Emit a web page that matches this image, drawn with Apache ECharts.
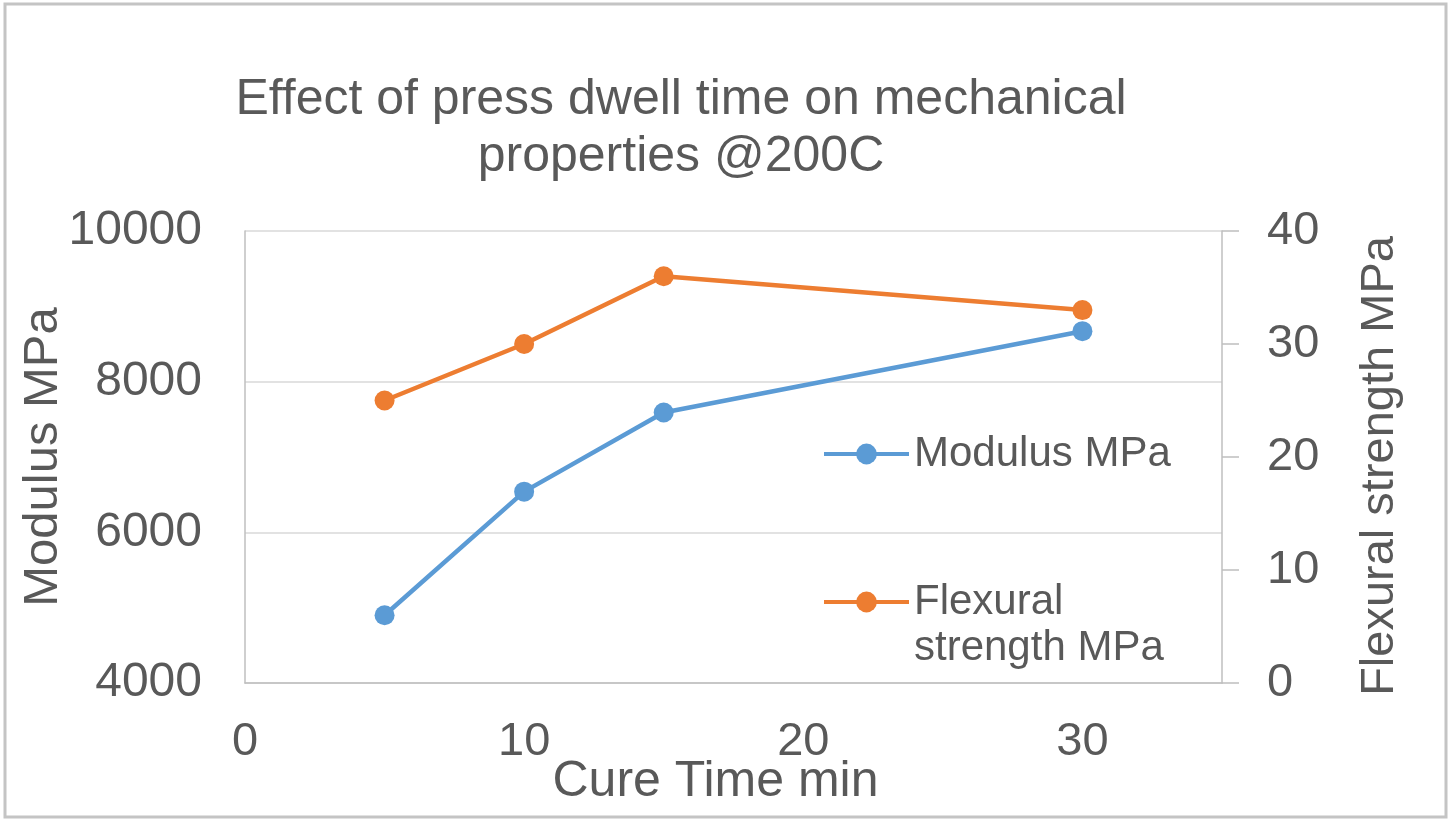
<!DOCTYPE html>
<html>
<head>
<meta charset="utf-8">
<script src="https://cdn.jsdelivr.net/npm/echarts@6/dist/echarts.min.js"></script>
<style>
html,body{margin:0;padding:0;background:#fff;}
#chart{width:1451px;height:822px;}
</style>
</head>
<body>
<div id="chart"></div>
<script>
// Data
const cureTime = [5, 10, 15, 30];
const modulusMPa = [4900, 6540, 7590, 8670];
const flexuralMPa = [25, 30, 36, 33];
const titleText = 'Effect of press dwell time on mechanical\nproperties @200C';
const seriesNames = ['Modulus MPa', 'Flexural strength MPa'];

const FONT = "'Liberation Sans', Arial, sans-serif";
const TXT = '#595959';

const chart = echarts.init(document.getElementById('chart'));
chart.setOption({
  backgroundColor: '#ffffff',
  animation: false,
  textStyle: { fontFamily: FONT },
  graphic: [{
    type: 'rect', shape: { x: 5, y: 4, width: 1441, height: 813 },
    style: { fill: 'none', stroke: '#c4c4c4', lineWidth: 3 }, silent: true
  }],
  title: {
    text: titleText, left: 681, top: 72, textAlign: 'center', padding: 0,
    textStyle: { fontFamily: FONT, fontSize: 50, fontWeight: 'normal', color: TXT, lineHeight: 57 }
  },
  legend: [{
    data: [seriesNames[0]], orient: 'vertical', left: 822, top: 433, padding: 0,
    itemWidth: 85, itemHeight: 26,
    lineStyle: { width: 4 },
    textStyle: { fontFamily: FONT, fontSize: 42, color: TXT }
  }, {
    data: [seriesNames[1]], orient: 'vertical', left: 822, top: 533, padding: 0,
    itemWidth: 85, itemHeight: 26,
    lineStyle: { width: 4 },
    formatter: function () { return ' \nFlexural\nstrength MPa'; },
    textStyle: { fontFamily: FONT, fontSize: 42, color: TXT, lineHeight: 46 }
  }],
  grid: { left: 245, right: 229, top: 231, bottom: 139, containLabel: false, outerBoundsMode: 'none' },
  xAxis: {
    type: 'value', min: 0, max: 35, interval: 10,
    name: 'Cure Time min', nameLocation: 'middle', nameGap: 74, nameMoveOverlap: false,
    nameTextStyle: { fontFamily: FONT, fontSize: 50, color: TXT, padding: [0, 36, 0, 0] },
    axisLine: { show: true, onZero: false, lineStyle: { color: '#bfbfbf', width: 1.5 } },
    axisTick: { show: false },
    splitLine: { show: false },
    axisLabel: { fontFamily: FONT, fontSize: 47, color: TXT, margin: 36, showMaxLabel: false }
  },
  yAxis: [{
    type: 'value', min: 4000, max: 10000, interval: 2000, position: 'left',
    name: 'Modulus MPa', nameLocation: 'middle', nameGap: 177, nameMoveOverlap: false,
    nameTextStyle: { fontFamily: FONT, fontSize: 49, color: TXT },
    axisLine: { show: true, lineStyle: { color: '#bfbfbf', width: 1.5 } },
    axisTick: { show: false },
    splitLine: { show: true, lineStyle: { color: '#d9d9d9', width: 1.5 } },
    axisLabel: { fontFamily: FONT, fontSize: 48, color: TXT, margin: 43, formatter: function (v) { return String(v); } }
  }, {
    type: 'value', min: 0, max: 40, interval: 10, position: 'right',
    name: 'Flexural strength MPa', nameLocation: 'middle', nameGap: 135, nameMoveOverlap: false,
    nameTextStyle: { fontFamily: FONT, fontSize: 47, color: TXT, padding: [0, 18, 0, 0] },
    axisLine: { show: true, lineStyle: { color: '#bfbfbf', width: 1.5 } },
    axisTick: { show: true, length: 17, lineStyle: { color: '#bfbfbf', width: 1.5 } },
    splitLine: { show: false },
    axisLabel: { fontFamily: FONT, fontSize: 47, color: TXT, margin: 45 }
  }],
  series: [{
    name: seriesNames[0], type: 'line', yAxisIndex: 0,
    data: cureTime.map((x, i) => [x, modulusMPa[i]]),
    symbol: 'circle', symbolSize: 20,
    lineStyle: { color: '#5B9BD5', width: 4.5 },
    itemStyle: { color: '#5B9BD5' }
  }, {
    name: seriesNames[1], type: 'line', yAxisIndex: 1,
    data: cureTime.map((x, i) => [x, flexuralMPa[i]]),
    symbol: 'circle', symbolSize: 20,
    lineStyle: { color: '#ED7D31', width: 4.5 },
    itemStyle: { color: '#ED7D31' }
  }]
});
</script>
</body>
</html>
